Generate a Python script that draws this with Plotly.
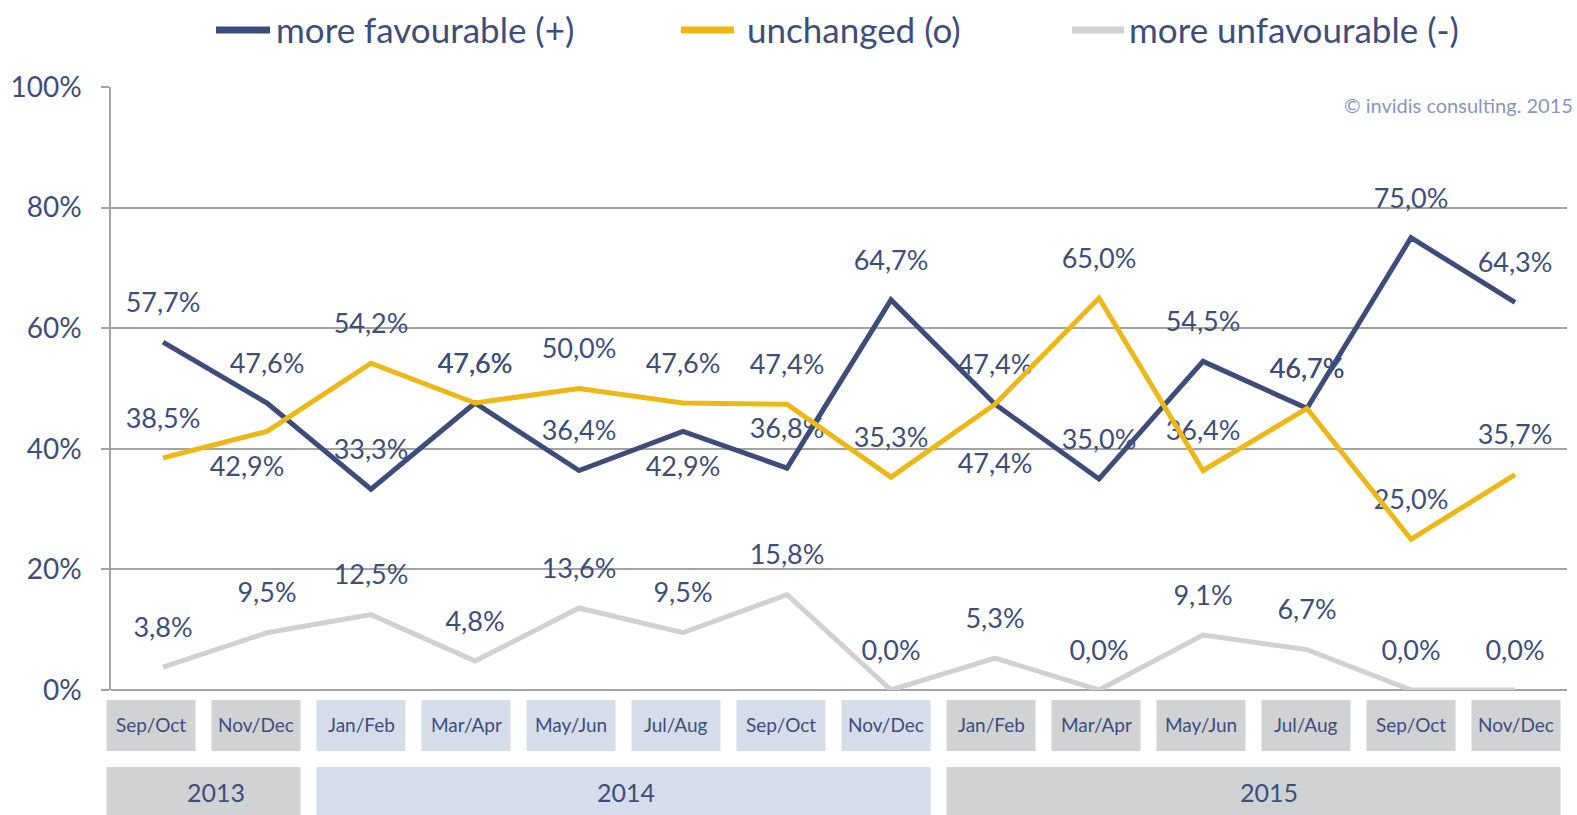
import plotly.graph_objects as go

# ---------------- data ----------------
periods = ["Sep/Oct", "Nov/Dec", "Jan/Feb", "Mar/Apr", "May/Jun", "Jul/Aug", "Sep/Oct",
           "Nov/Dec", "Jan/Feb", "Mar/Apr", "May/Jun", "Jul/Aug", "Sep/Oct", "Nov/Dec"]
years = ["2013", "2014", "2015"]
year_counts = [2, 6, 6]

more_favourable = [57.7, 47.6, 33.3, 47.6, 36.4, 42.9, 36.8, 64.7, 47.4, 35.0, 54.5, 46.7, 75.0, 64.3]
unchanged = [38.5, 42.9, 54.2, 47.6, 50.0, 47.6, 47.4, 35.3, 47.4, 65.0, 36.4, 46.7, 25.0, 35.7]
more_unfavourable = [3.8, 9.5, 12.5, 4.8, 13.6, 9.5, 15.8, 0.0, 5.3, 0.0, 9.1, 6.7, 0.0, 0.0]

series_names = ["more favourable (+)", "unchanged (o)", "more unfavourable (-)"]
y_ticks = [0, 20, 40, 60, 80, 100]
y_tick_labels = ["0%", "20%", "40%", "60%", "80%", "100%"]

# ---------------- styling ----------------
W, H = 1577, 815
ML, MR, MT, MB = 111, 10, 87, 125
PW, PH = W - ML - MR, H - MT - MB
PX_PER_UNIT = PH / 100.0

FONT = "Lato, 'Liberation Sans', Arial, sans-serif"
NAVY_TXT = "#3E4E7C"
COLORS = ["#3D4C7A", "#EDB816", "#D1D1D1"]
GRID = "#A3A3A3"
BOX_GRAY = "#D1D2D4"
BOX_BLUE = "#D5DCEA"
year_colors = [BOX_GRAY, BOX_BLUE, BOX_GRAY]
year_label_xshift = [12, 2, 15]

# label offset (pixels) above each point; special cases below
ABOVE = 37
label_shift = {
    0: {5: -38},
    1: {1: -38, 8: -62},
}
label_xshift = {1: {1: -20}}


def fmt(v):
    return f"{v:.1f}".replace(".", ",") + "%"


def px_x(p):
    return (p - ML) / PW


def px_y(p):
    return (H - MB - p) / PH


x = list(range(len(periods)))
all_series = [more_favourable, unchanged, more_unfavourable]

fig = go.Figure()

# data labels (drawn first so lines sit on top)
for si, vals in enumerate(all_series):
    ly, lx, lt = [], [], []
    for i, v in enumerate(vals):
        sh = label_shift.get(si, {}).get(i, ABOVE)
        xs = label_xshift.get(si, {}).get(i, 0)
        ly.append(v + sh / PX_PER_UNIT)
        lx.append(i + xs / (PW / len(periods)))
        lt.append(fmt(v))
    fig.add_trace(go.Scatter(
        x=lx, y=ly, text=lt, mode="text", textposition="middle center",
        textfont=dict(family=FONT, size=27, color=NAVY_TXT),
        showlegend=False, hoverinfo="skip", cliponaxis=False))

# lines
for si, vals in enumerate(all_series):
    fig.add_trace(go.Scatter(
        x=x, y=vals, mode="lines", name=series_names[si],
        line=dict(color=COLORS[si], width=5), showlegend=False, cliponaxis=False))

shapes = []
annotations = []

# category boxes (laid out in the strip below the plot)
BOX_STEP = 105.0
FIRST_CENTER = 151.0
BOX_HALF = 44.5


def box_center(i):
    return FIRST_CENTER + i * BOX_STEP


idx = 0
for yi, (yr, cnt) in enumerate(zip(years, year_counts)):
    start = idx
    for k in range(cnt):
        c = box_center(idx)
        shapes.append(dict(type="rect", xref="paper", yref="paper",
                           x0=px_x(c - BOX_HALF), x1=px_x(c + BOX_HALF),
                           y0=px_y(751), y1=px_y(700),
                           fillcolor=year_colors[yi], line=dict(width=0), layer="below"))
        annotations.append(dict(xref="paper", yref="paper", x=px_x(c), y=px_y(724),
                                xanchor="center", yanchor="middle",
                                text=periods[idx], showarrow=False,
                                font=dict(family=FONT, size=19, color=NAVY_TXT)))
        idx += 1
    end = idx - 1
    left = box_center(start) - BOX_HALF
    right = box_center(end) + BOX_HALF
    shapes.append(dict(type="rect", xref="paper", yref="paper",
                       x0=px_x(left), x1=px_x(right),
                       y0=px_y(822), y1=px_y(767),
                       fillcolor=year_colors[yi], line=dict(width=0), layer="below"))
    annotations.append(dict(xref="paper", yref="paper",
                            x=px_x((left + right) / 2 + year_label_xshift[yi]), y=px_y(792),
                            xanchor="center", yanchor="middle",
                            text=yr, showarrow=False,
                            font=dict(family=FONT, size=25, color=NAVY_TXT)))

# manual legend
legend_items = [(216, 270, 274), (681, 734, 745), (1072, 1124, 1127)]
for si, (a, b, t) in enumerate(legend_items):
    shapes.append(dict(type="line", xref="paper", yref="paper",
                       x0=px_x(a), x1=px_x(b), y0=px_y(30), y1=px_y(30),
                       line=dict(color=COLORS[si], width=7)))
    annotations.append(dict(xref="paper", yref="paper", x=px_x(t), y=px_y(29),
                            xanchor="left", yanchor="middle", text=series_names[si],
                            showarrow=False,
                            font=dict(family=FONT, size=35, color=NAVY_TXT)))

# copyright
annotations.append(dict(xref="paper", yref="paper", x=px_x(1575), y=px_y(105),
                        xanchor="right", yanchor="middle",
                        text="© invidis consulting. 2015", showarrow=False,
                        font=dict(family=FONT, size=20, color="#8595C4")))

fig.update_layout(
    width=W, height=H,
    margin=dict(l=ML, r=MR, t=MT, b=MB, pad=0),
    paper_bgcolor="white", plot_bgcolor="white",
    showlegend=False,
    shapes=shapes, annotations=annotations,
    xaxis=dict(range=[-0.5, len(periods) - 0.5], showticklabels=False, showgrid=False,
               zeroline=False, showline=False, ticks="", fixedrange=True),
    yaxis=dict(range=[0, 100], tickmode="array", tickvals=y_ticks, ticktext=y_tick_labels,
               showgrid=True, gridcolor=GRID, gridwidth=1.5,
               zeroline=True, zerolinecolor=GRID, zerolinewidth=2,
               showline=True, linecolor=GRID, linewidth=1.5,
               ticks="outside", ticklen=8, tickcolor=GRID, tickwidth=1.5,
               ticklabelstandoff=14,
               tickfont=dict(family=FONT, size=28, color=NAVY_TXT), fixedrange=True),
)

fig.write_html("out.html", config={"displayModeBar": False},
               post_script="document.body.style.margin='0';document.body.style.overflow='hidden';")
